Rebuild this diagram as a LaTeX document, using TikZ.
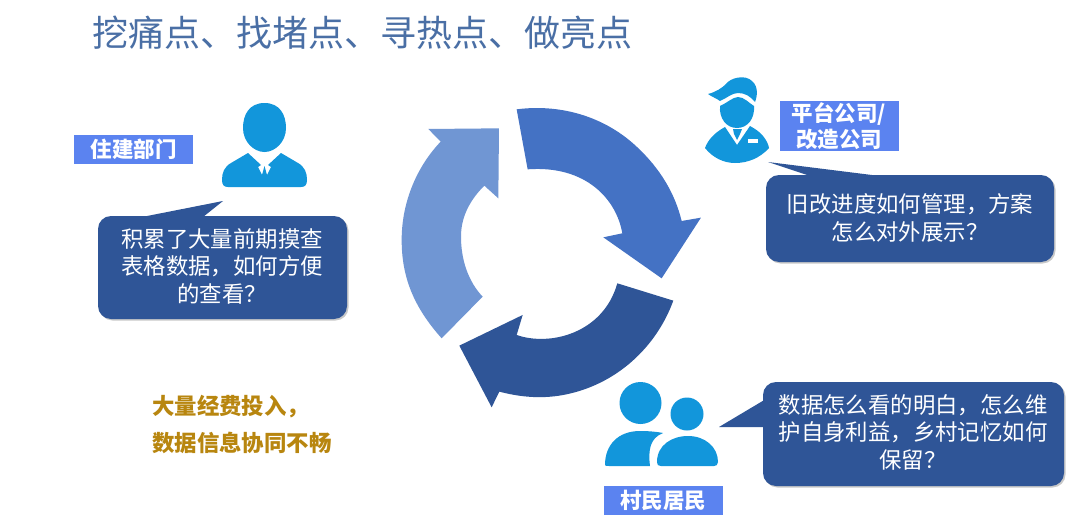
\documentclass[tikz,border=0pt]{standalone}
\usepackage{fontspec}
\setmainfont{Noto Sans CJK SC}
\usetikzlibrary{shadows,calc}
\definecolor{bubbleblue}{HTML}{2F5597}
\definecolor{midblue}{HTML}{4472C4}
\definecolor{lightblue}{HTML}{7096D3}
\definecolor{tagblue}{HTML}{5B83F0}
\definecolor{iconblue}{HTML}{1296DB}
\definecolor{titleblue}{HTML}{4A6FA5}
\definecolor{gold}{HTML}{B8860F}
\tikzset{
  x=1pt,y=-1pt,
  bubble/.style={rounded corners=13pt,fill=bubbleblue,draw=none,drop shadow={shadow xshift=1.5pt,shadow yshift=-1.5pt,opacity=.3,fill=black!70}},
  bubbletext/.style={text=white,font=\fontsize{22.4}{27.5}\selectfont,align=center,inner sep=0pt},
  tag/.style={fill=tagblue,text=white,font=\fontsize{21.5}{26}\selectfont\bfseries,align=center,inner sep=0pt},
  icon/.style={fill=iconblue,draw=none},
}
\begin{document}
\begin{tikzpicture}
\useasboundingbox (0,0) rectangle (1080,530);
\fill[white] (0,0) rectangle (1080,530);
% title
\node[text=titleblue,font=\fontsize{36}{40}\selectfont,anchor=west,inner sep=0pt] (title) at (92,33) {挖痛点、找堵点、寻热点、做亮点};
% ring arrows (coordinates read in a 3x crop)
\begin{scope}[shift={(390,90)},x=0.3333pt,y=-0.3333pt]
\fill[lightblue] (155,745) .. controls (70,650) and (35,560) .. (35,450) .. controls (35,330) and (85,225) .. (152,155) -- (115,117) -- (327,115) -- (325,325) -- (283,287) .. controls (240,330) and (213,380) .. (213,440) .. controls (213,510) and (235,575) .. (278,620) -- cycle;
\fill[midblue] (380,58) .. controls (520,40) and (650,85) .. (740,170) .. controls (810,235) and (855,310) .. (875,393) -- (933,383) -- (815,565) -- (640,442) -- (697,430) .. controls (680,330) and (590,225) .. (413,238) -- cycle;
\fill[bubbleblue] (850,632) .. controls (800,770) and (680,885) .. (520,915) .. controls (450,928) and (385,920) .. (328,905) -- (305,952) -- (208,767) -- (398,675) -- (380,735) .. controls (480,770) and (640,730) .. (682,580) -- cycle;
\end{scope}
% person 1
\fill[icon] (264.5,103) .. controls (280,103) and (286,115) .. (286,128) .. controls (286,142) and (275,152) .. (264.5,152) .. controls (254,152) and (243,142) .. (243,128) .. controls (243,115) and (249,103) .. (264.5,103) -- cycle;
\fill[icon] (248,153) -- (261,165) -- (258,167) -- (262,175) -- (264.5,166) -- (267,175) -- (271,167) -- (268,165) -- (281,153) -- (298,163) .. controls (305,167) and (307,173) .. (307,180) .. controls (307,185) and (305,187) .. (301,187) -- (228,187) .. controls (224,187) and (222,185) .. (222,180) .. controls (222,173) and (224,167) .. (231,163) -- cycle;
% person 2
\fill[icon] (708,94) .. controls (716,92) and (722,88) .. (726,84) .. controls (730,78) and (745,74) .. (752,81) .. controls (759,87) and (757,97) .. (755,102) .. controls (750,96) and (745,93) .. (738,93) .. controls (732,93) and (727,98) .. (720,101) .. controls (716,98) and (712,97) .. (708,94) -- cycle;
\fill[icon] (720,106) .. controls (727,103) and (733,97) .. (738,97) .. controls (744,97) and (749,103) .. (754,106) .. controls (755,118) and (748,128) .. (737,128) .. controls (726,128) and (719,118) .. (720,106) -- cycle;
\fill[icon] (725,127) -- (737,145) -- (750,126) -- (755,129) .. controls (763,134) and (768,142) .. (769,148) .. controls (760,158) and (748,163) .. (735,163) .. controls (724,163) and (713,158) .. (705,148) .. controls (708,140) and (714,133) .. (725,127) -- cycle;
\fill[icon] (733,129) -- (742,129) -- (740,134) -- (737,140) -- (734,134) -- cycle;
\fill[white] (748,139) rectangle (758,143);
% persons 3
\fill[icon] (640.5,403) circle (21);
\fill[icon] (687,414) circle (16.5);
\fill[icon] (605,465) .. controls (605,445) and (618,431) .. (640,431) .. controls (650,431) and (658,432) .. (663,433) .. controls (650,438) and (648,450) .. (650,466) -- (609,466) .. controls (606,466) and (605,466) .. (605,465) -- cycle;
\fill[icon] (657,462) .. controls (657,445) and (672,436) .. (688,436) .. controls (705,436) and (718,447) .. (718,462) .. controls (718,465) and (716,466) .. (714,466) -- (661,466) .. controls (658,466) and (657,465) .. (657,462) -- cycle;
% tags
\node[tag,minimum width=119pt,minimum height=29pt] (tagA) at (133.5,149) {住建部门};
\node[tag,minimum width=119pt,minimum height=50pt] (tagB) at (839,126) {平台公司/\\改造公司};
\node[tag,minimum width=119pt,minimum height=29pt] (tagC) at (663,500) {村民居民};
% bubbles
\fill[bubble] (98,216) rectangle (347,319);
\fill[bubbleblue] (142,217) -- (223,201) -- (203,217) -- cycle;
\node[bubbletext] (textA) at (222,266) {积累了大量前期摸查\\表格数据，如何方便\\的查看？};
\fill[bubble] (766,175) rectangle (1054,262);
\fill[bubbleblue] (768,162) -- (880,176) -- (810,176) -- cycle;
\node[bubbletext] (textB) at (910,218) {旧改进度如何管理，方案\\怎么对外展示？};
\fill[bubble] (763,382) rectangle (1064,486);
\fill[bubbleblue] (719,427) -- (766,399) -- (766,427) -- cycle;
\node[bubbletext] (textC) at (913,432) {数据怎么看的明白，怎么维\\护自身利益，乡村记忆如何\\保留？};
% note
\node[text=gold,font=\fontsize{22.4}{37}\selectfont\bfseries,align=left,anchor=west,inner sep=0pt] (note) at (152,424) {大量经费投入，\\数据信息协同不畅};
\end{tikzpicture}
\end{document}
